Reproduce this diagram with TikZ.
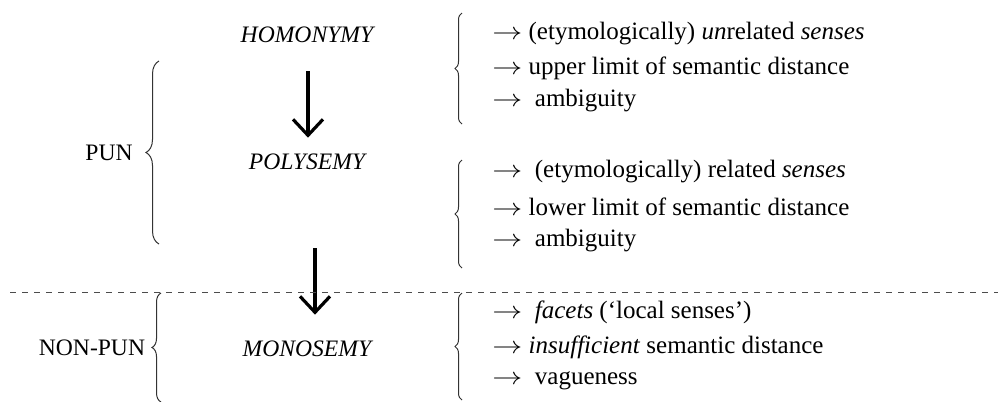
\documentclass[tikz,border=0pt]{standalone}
\usepackage{fontspec}
\setmainfont{Liberation Serif}
\usepackage{tikz}
\usetikzlibrary{arrows.meta,decorations.pathreplacing}

\newcommand{\pijl}{\scalebox{1.25}[1]{$\rightarrow$}}

\tikzset{
  lbl/.style={inner sep=0pt,font=\fontsize{11.8}{13}\selectfont},
  item/.style={inner sep=0pt,anchor=west,font=\fontsize{12.5}{14}\selectfont},
  brc/.style={decorate,decoration={brace,amplitude=#1},line width=0.5pt,black!80},
  pil/.style={-{Straight Barb[length=8pt,width=15pt]},line width=1.6pt}
}

\begin{document}
\begin{tikzpicture}[x=0.5pt,y=-0.5pt]
        \useasboundingbox (0,0) rectangle (998,402);

        % Levels
        \node[lbl] (homonymy) at (308,35)  {\textit{HOMONYMY}};
        \node[lbl] (polysemy) at (308,162) {\textit{POLYSEMY}};
        \node[lbl] (monosemy) at (308,349) {\textit{MONOSEMY}};

        \node[lbl] (pun)    at (109,153) {PUN};
        \node[lbl] (nonpun) at (92,348)  {NON-PUN};

        \draw[pil,shorten <=14pt,shorten >=8pt] (homonymy) -- (polysemy);
        \draw[pil,shorten <=39pt,shorten >=13pt] ([xshift=3.5pt]polysemy.south) -- ([xshift=3.5pt]monosemy.north);

        % Divide
        \draw[dashed,black!70,line width=0.5pt] (10,292) -- (998,292);

        % Left braces
        \draw[brc=6.5pt] (159,244) -- (159,61);
        \draw[brc=4.5pt] (161,402) -- (161,293);

        % Right braces
        \draw[brc=3.5pt] (462,124) -- (462,13);
        \draw[brc=3.5pt] (462,268) -- (462,160);
        \draw[brc=3.5pt] (462,400) -- (462,293);

        % Properties
        \node[item] (hom1) at (492,34)  {\pijl{} (etymologically) \textit{un}related \textit{senses}};
        \node[item] (hom2) at (492,68)  {\pijl{} upper limit of semantic distance};
        \node[item] (hom3) at (492,101) {\pijl{}~ ambiguity};

        \node[item] (pol1) at (492,172) {\pijl{}~ (etymologically) related \textit{senses}};
        \node[item] (pol2) at (492,207) {\pijl{} lower limit of semantic distance};
        \node[item] (pol3) at (492,241) {\pijl{}~ ambiguity};

        \node[item] (mon1) at (492,312) {\pijl{}~ \textit{facets} (`local senses')};
        \node[item] (mon2) at (492,347) {\pijl{} \textit{insufficient} semantic distance};
        \node[item] (mon3) at (492,381) {\pijl{}~ vagueness};
    \end{tikzpicture}
\end{document}
